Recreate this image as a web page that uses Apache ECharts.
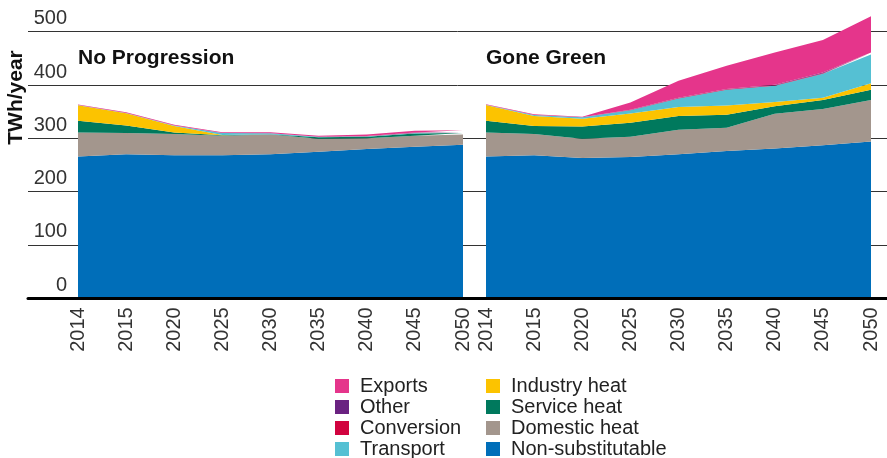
<!DOCTYPE html>
<html>
<head>
<meta charset="utf-8">
<script src="https://cdn.jsdelivr.net/npm/echarts@6/dist/echarts.min.js"></script>
<style>
html,body{margin:0;padding:0;background:#fff;}
#chart{width:887px;height:458px;}
</style>
</head>
<body>
<div id="chart"></div>
<script>
// ---- data ----
const years = ['2014','2015','2020','2025','2030','2035','2040','2045','2050'];
const yTicks = [0, 100, 200, 300, 400, 500];
const seriesNames = ['Non-substitutable','Domestic heat','Service heat','Industry heat','Transport','Conversion','Other','Exports'];
const seriesColors = ['#006eb9','#a3968d','#00795d','#fcc300','#55c0d3','#d1033f','#6a2281','#e5358b'];
const legendCol1 = ['Exports','Other','Conversion','Transport'];
const legendCol2 = ['Industry heat','Service heat','Domestic heat','Non-substitutable'];

// No Progression
const npNonSub    = [266, 270, 268, 268, 270, 275, 280, 284, 288];
const npDomestic  = [45, 40, 40, 37, 37, 24, 20, 21, 19];
const npService   = [22, 14, 3, 0.5, 0.5, 3, 3, 4, 3];
const npIndustry  = [29, 23, 12, 0.5, 0, 0, 0, 0, 0];
const npTransport = [0.5, 0.5, 1, 4, 2, 1, 1, 1, 1];
const npConversion= [0, 0, 0, 0, 0, 0, 0.5, 0.5, 0.5];
const npOther     = [0, 0, 0, 0, 0, 0, 0, 0.5, 0.5];
const npExports   = [1, 1.5, 1.5, 1.5, 2, 2, 2.5, 3, 3];

// Gone Green
const ggNonSub    = [266, 268, 263, 265, 270, 276, 281, 287, 294];
const ggDomestic  = [45, 40, 36, 38, 46, 44, 65, 68, 78];
const ggService   = [22, 15, 23, 26, 26, 24, 14, 17, 19];
const ggIndustry  = [29.5, 19, 14.5, 17.5, 16.5, 17.5, 8, 4, 12];
const ggTransport = [0.5, 1.5, 3, 6, 16, 29.5, 30.5, 45, 54];
const ggConversion= [0, 0, 0, 0.5, 1, 1, 1, 1, 3];
const ggOther     = [0, 0, 0, 0.5, 0.5, 0.5, 1, 1.5, 1];
const ggExports   = [1, 1.5, 1, 13.5, 32, 43.5, 60.5, 61, 68];

const npData = [npNonSub, npDomestic, npService, npIndustry, npTransport, npConversion, npOther, npExports];
const ggData = [ggNonSub, ggDomestic, ggService, ggIndustry, ggTransport, ggConversion, ggOther, ggExports];

// ---- chart ----
const FONT = 'Liberation Sans, Arial, sans-serif';
const chart = echarts.init(document.getElementById('chart'), null, {renderer:'canvas'});

function buildSeries(dataSets, idx, stackName) {
  return dataSets.map((d, i) => ({
    name: seriesNames[i],
    type: 'line',
    xAxisIndex: idx,
    yAxisIndex: idx,
    stack: stackName,
    data: d,
    symbol: 'none',
    smooth: false,
    lineStyle: {width: 0},
    areaStyle: {color: seriesColors[i], opacity: 1},
    itemStyle: {color: seriesColors[i]},
    emphasis: {disabled: true},
    z: 2
  }));
}

const catAxis = (gi) => ({
  type: 'category',
  gridIndex: gi,
  data: years,
  boundaryGap: false,
  axisLine: {show: false},
  axisTick: {show: false},
  splitLine: {show: false},
  axisLabel: {rotate: 90, fontSize: 20, color: '#333', fontFamily: FONT, margin: 9, interval: 0}
});

const legendStyle = {
  orient: 'vertical', top: 376, height: 120,
  itemWidth: 14, itemHeight: 14, itemGap: 1, icon: 'rect', padding: 0, selectedMode: false,
  textStyle: {fontSize: 20, color: '#222', fontFamily: FONT, lineHeight: 20, padding: [0,0,0,6]}
};

const option = {
  animation: false,
  backgroundColor: '#fff',
  title: [
    {text: 'No Progression', left: 78, top: 48, padding: 0,
     textStyle: {fontSize: 21, fontWeight: 'bold', color: '#111', fontFamily: FONT}},
    {text: 'Gone Green', left: 486, top: 48, padding: 0,
     textStyle: {fontSize: 21, fontWeight: 'bold', color: '#111', fontFamily: FONT}}
  ],
  grid: [
    {left: 78, width: 385, top: 10.3, height: 288},
    {left: 486, width: 385, top: 10.3, height: 288},
    {left: 28, right: 0, top: 31.7, height: 266.6}
  ],
  xAxis: [
    catAxis(0),
    catAxis(1),
    {type: 'value', gridIndex: 2, min: 0, max: 1, z: 10,
     axisLine: {show: true, lineStyle: {color: '#000', width: 3}},
     axisTick: {show: false}, axisLabel: {show: false}, splitLine: {show: false}}
  ],
  yAxis: [
    {type: 'value', gridIndex: 0, min: 0, max: 540, show: false, splitLine: {show: false}},
    {type: 'value', gridIndex: 1, min: 0, max: 540, show: false, splitLine: {show: false}},
    {type: 'value', gridIndex: 2, min: yTicks[0], max: yTicks[yTicks.length - 1], interval: 100,
     axisLine: {show: false}, axisTick: {show: false},
     splitLine: {show: true, lineStyle: {color: '#333', width: 1}},
     axisLabel: {inside: true, margin: 39, align: 'right', verticalAlign: 'bottom',
                 fontSize: 20, color: '#333', fontFamily: FONT, padding: [0, 0, 3, 0]}}
  ],
  legend: [
    Object.assign({data: legendCol1, left: 335}, legendStyle),
    Object.assign({data: legendCol2, left: 486}, legendStyle)
  ],
  graphic: [
    {type: 'text', x: 16.5, y: 97.5, rotation: Math.PI / 2,
     style: {text: 'TWh/year', fontSize: 21, fontWeight: 'bold', fill: '#111', fontFamily: FONT,
             align: 'center', verticalAlign: 'middle'}}
  ],
  series: [].concat(buildSeries(npData, 0, 'np'), buildSeries(ggData, 1, 'gg'))
};
chart.setOption(option);
</script>
</body>
</html>
